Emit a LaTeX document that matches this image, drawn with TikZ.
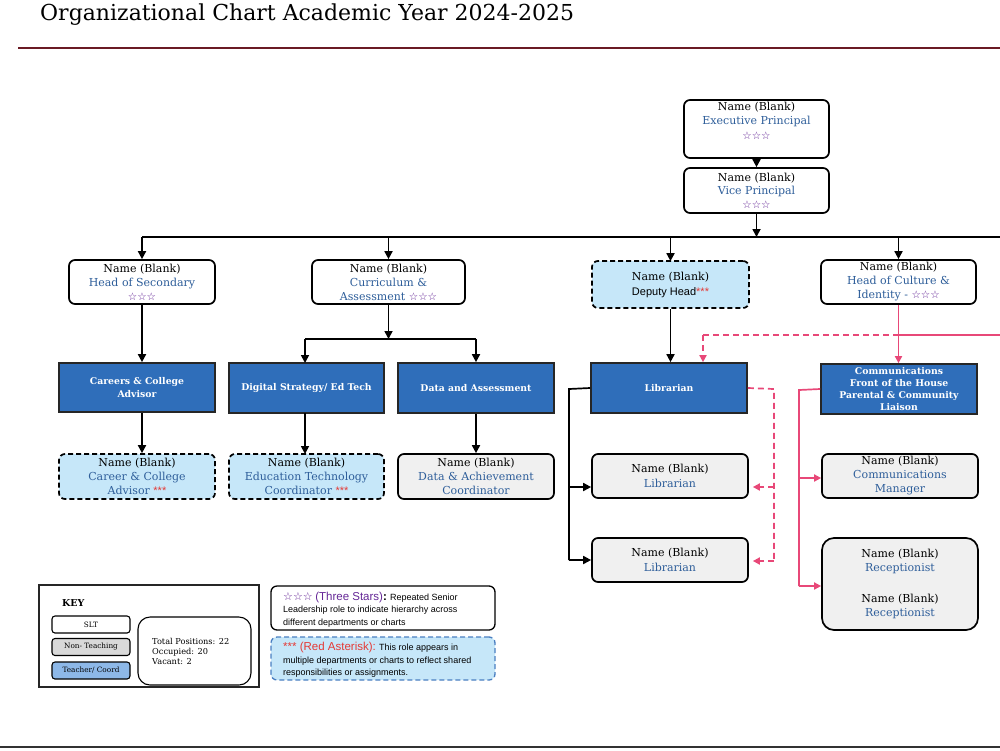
\documentclass[tikz,border=0pt]{standalone}
\usepackage{fontspec}
\setmainfont{DejaVu Serif}
\setsansfont{Liberation Sans}
\newfontfamily\symfont{DejaVu Sans}
\usetikzlibrary{arrows.meta}
\definecolor{tblue}{RGB}{46,94,154}
\definecolor{spurple}{RGB}{100,38,150}
\definecolor{ared}{RGB}{229,57,53}
\definecolor{boxblue}{RGB}{47,110,186}
\definecolor{lblue}{RGB}{198,231,249}
\definecolor{lgray}{RGB}{240,240,240}
\definecolor{pinkc}{RGB}{232,72,120}
\definecolor{rulered}{RGB}{106,26,36}
\definecolor{keyblue}{RGB}{141,184,232}
\definecolor{keygray}{RGB}{217,217,217}
\definecolor{dashblue}{RGB}{74,127,193}
\newcommand{\threestars}{{\symfont\bfseries\fontsize{10.5}{10}\selectfont\color{spurple}☆☆☆}}
\newcommand{\redast}{{\sffamily\color{ared}***}}
\newcommand{\tb}[1]{{\color{tblue}#1}}
\tikzset{
  base/.style={draw=black, line width=1.7pt, rounded corners=6pt, align=center, inner sep=0pt, font=\fontsize{11}{14.5}\selectfont},
  sltbox/.style={base, fill=white},
  ntbox/.style={base, fill=lgray},
  vacbox/.style={base, fill=lblue, dash pattern=on 5pt off 3pt},
  tcbox/.style={draw=black!85, line width=1.7pt, fill=boxblue, text=white, align=center, inner sep=0pt, font=\bfseries\fontsize{9.3}{12.2}\selectfont},
  ln/.style={line width=1.7pt},
  arr/.style={line width=1.7pt, -{Triangle[length=8pt,width=8pt]}},
  pln/.style={draw=pinkc, line width=1.7pt},
  parr/.style={draw=pinkc, line width=1.7pt, -{Triangle[length=7pt,width=7pt]}},
  pdash/.style={draw=pinkc, line width=1.7pt, dash pattern=on 6pt off 4pt},
  keysm/.style={draw=black, line width=1.1pt, rounded corners=3pt, minimum width=78pt, minimum height=17pt, inner sep=0pt, font=\fontsize{7.3}{8}\selectfont},
}
\begin{document}
\begin{tikzpicture}[x=1pt,y=-1pt]
\useasboundingbox (0,0) rectangle (1000,750);
% title and rules
\node[anchor=base west, inner sep=0pt, font=\fontsize{22}{26}\selectfont] (title) at (40,20) {Organizational Chart Academic Year 2024-2025};
\draw[rulered, line width=2pt] (18,48) -- (1000,48);
\draw[black!80, line width=2pt] (0,747) -- (1000,747);

% top
\node[sltbox, minimum width=145pt, minimum height=58pt, text depth=17pt] (EP) at (756.5,129) {Name (Blank)\\\tb{Executive Principal}\\\threestars};
\node[sltbox, minimum width=145pt, minimum height=45pt] (VP) at (756.5,190.5) {Name (Blank)\\[-1pt]\tb{Vice Principal}\\[-1pt]\threestars};
\draw[arr] (EP.south) -- (VP.north);
\coordinate (bar) at (756.5,237);
\coordinate (barL) at (142,237);
\coordinate (barR) at (1000,237);
\draw[arr] (VP.south) -- (bar);
\draw[ln] (barL) -- (barR);

% row 2
\node[sltbox, minimum width=146pt, minimum height=44pt] (HoS) at (142,282) {Name (Blank)\\[-0.5pt]\tb{Head of Secondary}\\[-0.5pt]\threestars};
\node[sltbox, minimum width=153pt, minimum height=44pt] (Cur) at (388.5,282) {Name (Blank)\\[-0.5pt]\tb{Curriculum \&}\\[-0.5pt]\tb{Assessment} \threestars};
\node[vacbox, minimum width=157pt, minimum height=47pt] (Dep) at (670.5,284.5) {Name (Blank)\\[0.5pt]{\sffamily Deputy Head}\redast};
\node[sltbox, minimum width=155pt, minimum height=44pt] (HoC) at (898.5,282) {Name (Blank)\\[-0.5pt]\tb{Head of Culture \&}\\[-0.5pt]\tb{Identity -} \threestars};
\draw[arr] (barL) -- (HoS.north);
\draw[arr] (Cur.north|-barL) -- (Cur.north);
\draw[arr] (Dep.north|-barL) -- ([yshift=-1pt]Dep.north);
\draw[arr] (HoC.north|-barL) -- (HoC.north);

% row 3
\node[tcbox, minimum width=156pt, minimum height=49pt] (Car) at (137,387.5) {Careers \& College\\Advisor};
\node[tcbox, minimum width=155pt, minimum height=50pt] (Dig) at (306.5,388) {Digital Strategy/ Ed Tech};
\node[tcbox, minimum width=156pt, minimum height=50pt] (Dat) at (476,388) {Data and Assessment};
\node[tcbox, minimum width=156pt, minimum height=50pt] (Lib) at (669,388) {Librarian};
\node[tcbox, minimum width=156pt, minimum height=50pt] (Com) at (899,389) {Communications\\Front of the House\\Parental \& Community\\Liaison};
\draw[arr] (HoS.south) -- (HoS.south|-Car.north);
\coordinate (cs) at (388.5,339);
\draw[arr] (Cur.south) -- (cs);
\draw[ln] (305,339) -- (Dat.north|-cs);
\draw[arr] (305,339) -- (305,363);
\draw[arr] (Dat.north|-cs) -- (Dat.north);
\draw[arr] (Dep.south) -- (Dep.south|-Lib.north);
\draw[parr] (HoC.south) -- (HoC.south|-Com.north);
\coordinate (pe) at (1000,335);
\coordinate (pm) at (898.5,335);
\draw[pln] (pe) -- (pm);
\draw[pdash] (pm) -- (703,335);
\draw[parr, dash pattern=on 6pt off 4pt] (703,335) -- ([xshift=34pt]Lib.north);

% row 4
\node[vacbox, minimum width=156pt, minimum height=45pt] (CarV) at (137,476.5) {Name (Blank)\\[-0.5pt]\tb{Career \& College}\\[-0.5pt]\tb{Advisor} \redast};
\node[vacbox, minimum width=155pt, minimum height=45pt] (EdT) at (306.5,476.5) {Name (Blank)\\[-0.5pt]\tb{Education Technology}\\[-0.5pt]\tb{Coordinator} \redast};
\node[ntbox, minimum width=156pt, minimum height=45pt] (DAC) at (476,476.5) {Name (Blank)\\[-0.5pt]\tb{Data \& Achievement}\\[-0.5pt]\tb{Coordinator}};
\draw[arr] (HoS.south|-Car.south) -- (HoS.south|-CarV.north);
\draw[arr] (305,413) -- (305,454);
\draw[arr] (Dat.south) -- (DAC.north);

% librarians
\node[ntbox, minimum width=156pt, minimum height=44pt] (L1) at (670,476) {Name (Blank)\\\tb{Librarian}};
\node[ntbox, minimum width=156pt, minimum height=44pt] (L2) at (670,560) {Name (Blank)\\\tb{Librarian}};
\coordinate (ll) at (569,389);
\coordinate (l1a) at (569,487);
\coordinate (l2a) at (569,560);
\draw[ln] (Lib.west) -- (ll) -- (l2a);
\draw[arr] (l1a) -- (L1.west|-l1a);
\draw[arr] (l2a) -- (L2.west|-l2a);
\coordinate (pr) at (774,389);
\coordinate (p1) at (774,487);
\coordinate (p2) at (774,561);
\draw[pdash] (Lib.east) -- (pr) -- (p2);
\draw[parr, dash pattern=on 6pt off 4pt] (p1) -- ([xshift=4pt]L1.east|-p1);
\draw[parr, dash pattern=on 6pt off 4pt] (p2) -- ([xshift=4pt]L2.east|-p2);

% communications
\node[ntbox, minimum width=156pt, minimum height=44pt] (CM) at (900,476) {Name (Blank)\\[-0.5pt]\tb{Communications}\\[-0.5pt]\tb{Manager}};
\node[ntbox, rounded corners=12pt, minimum width=156pt, minimum height=92pt] (Rec) at (900,584) {Name (Blank)\\[-0.5pt]\tb{Receptionist}\\[16pt]Name (Blank)\\[-0.5pt]\tb{Receptionist}};
\coordinate (cl) at (799,390);
\coordinate (c1) at (799,478);
\coordinate (c2) at (799,586);
\draw[pln] (Com.west) -- (cl) -- (c2);
\draw[parr] (c1) -- (CM.west|-c1);
\draw[parr] (c2) -- (Rec.west|-c2);

% key
\node[draw=black!85, line width=1.1pt, minimum width=220pt, minimum height=102pt, inner sep=0pt] (key) at (149,636) {};
\node[anchor=west, inner sep=0pt, font=\bfseries\fontsize{9.5}{10}\selectfont] (keyt) at (62,603) {KEY};
\node[keysm, fill=white] (kslt) at (91,624.5) {SLT};
\node[keysm, fill=keygray] (knt) at (91,647) {Non- Teaching};
\node[keysm, fill=keyblue] (ktc) at (91,670.5) {Teacher/ Coord};
\node[draw=black, line width=1.1pt, rounded corners=12pt, minimum width=113pt, minimum height=68pt, inner sep=0pt] (stats) at (194.5,651) {};
\node[anchor=west, align=left, inner sep=0pt, font=\fontsize{8.2}{10}\selectfont] (statt) at (152,651) {Total Positions: 22\\Occupied: 20\\Vacant: 2};

% legends
\node[draw=black, line width=1.3pt, rounded corners=6pt, minimum width=224pt, minimum height=44pt, inner sep=0pt] (lg1) at (383,608) {};
\node[anchor=west, align=left, inner sep=0pt, font=\sffamily\fontsize{9}{12.5}\selectfont] (lg1t) at (283,609.5) {{\color{spurple}{\symfont\bfseries\fontsize{11}{10}\selectfont ☆☆☆} {\fontsize{11.5}{10}\selectfont(Three Stars)}}{\fontsize{11.5}{10}\selectfont\textbf{:}} Repeated Senior\\Leadership role to indicate hierarchy across\\different departments or charts};
\node[draw=dashblue, fill=lblue, line width=1.3pt, dash pattern=on 5pt off 3pt, rounded corners=6pt, minimum width=224pt, minimum height=43pt, inner sep=0pt] (lg2) at (383,658.5) {};
\node[anchor=west, align=left, inner sep=0pt, font=\sffamily\fontsize{9}{12.5}\selectfont] (lg2t) at (283,660) {{\color{ared}\fontsize{11.5}{10}\selectfont*** (Red Asterisk):} This role appears in\\multiple departments or charts to reflect shared\\responsibilities or assignments.};
\end{tikzpicture}
\end{document}
